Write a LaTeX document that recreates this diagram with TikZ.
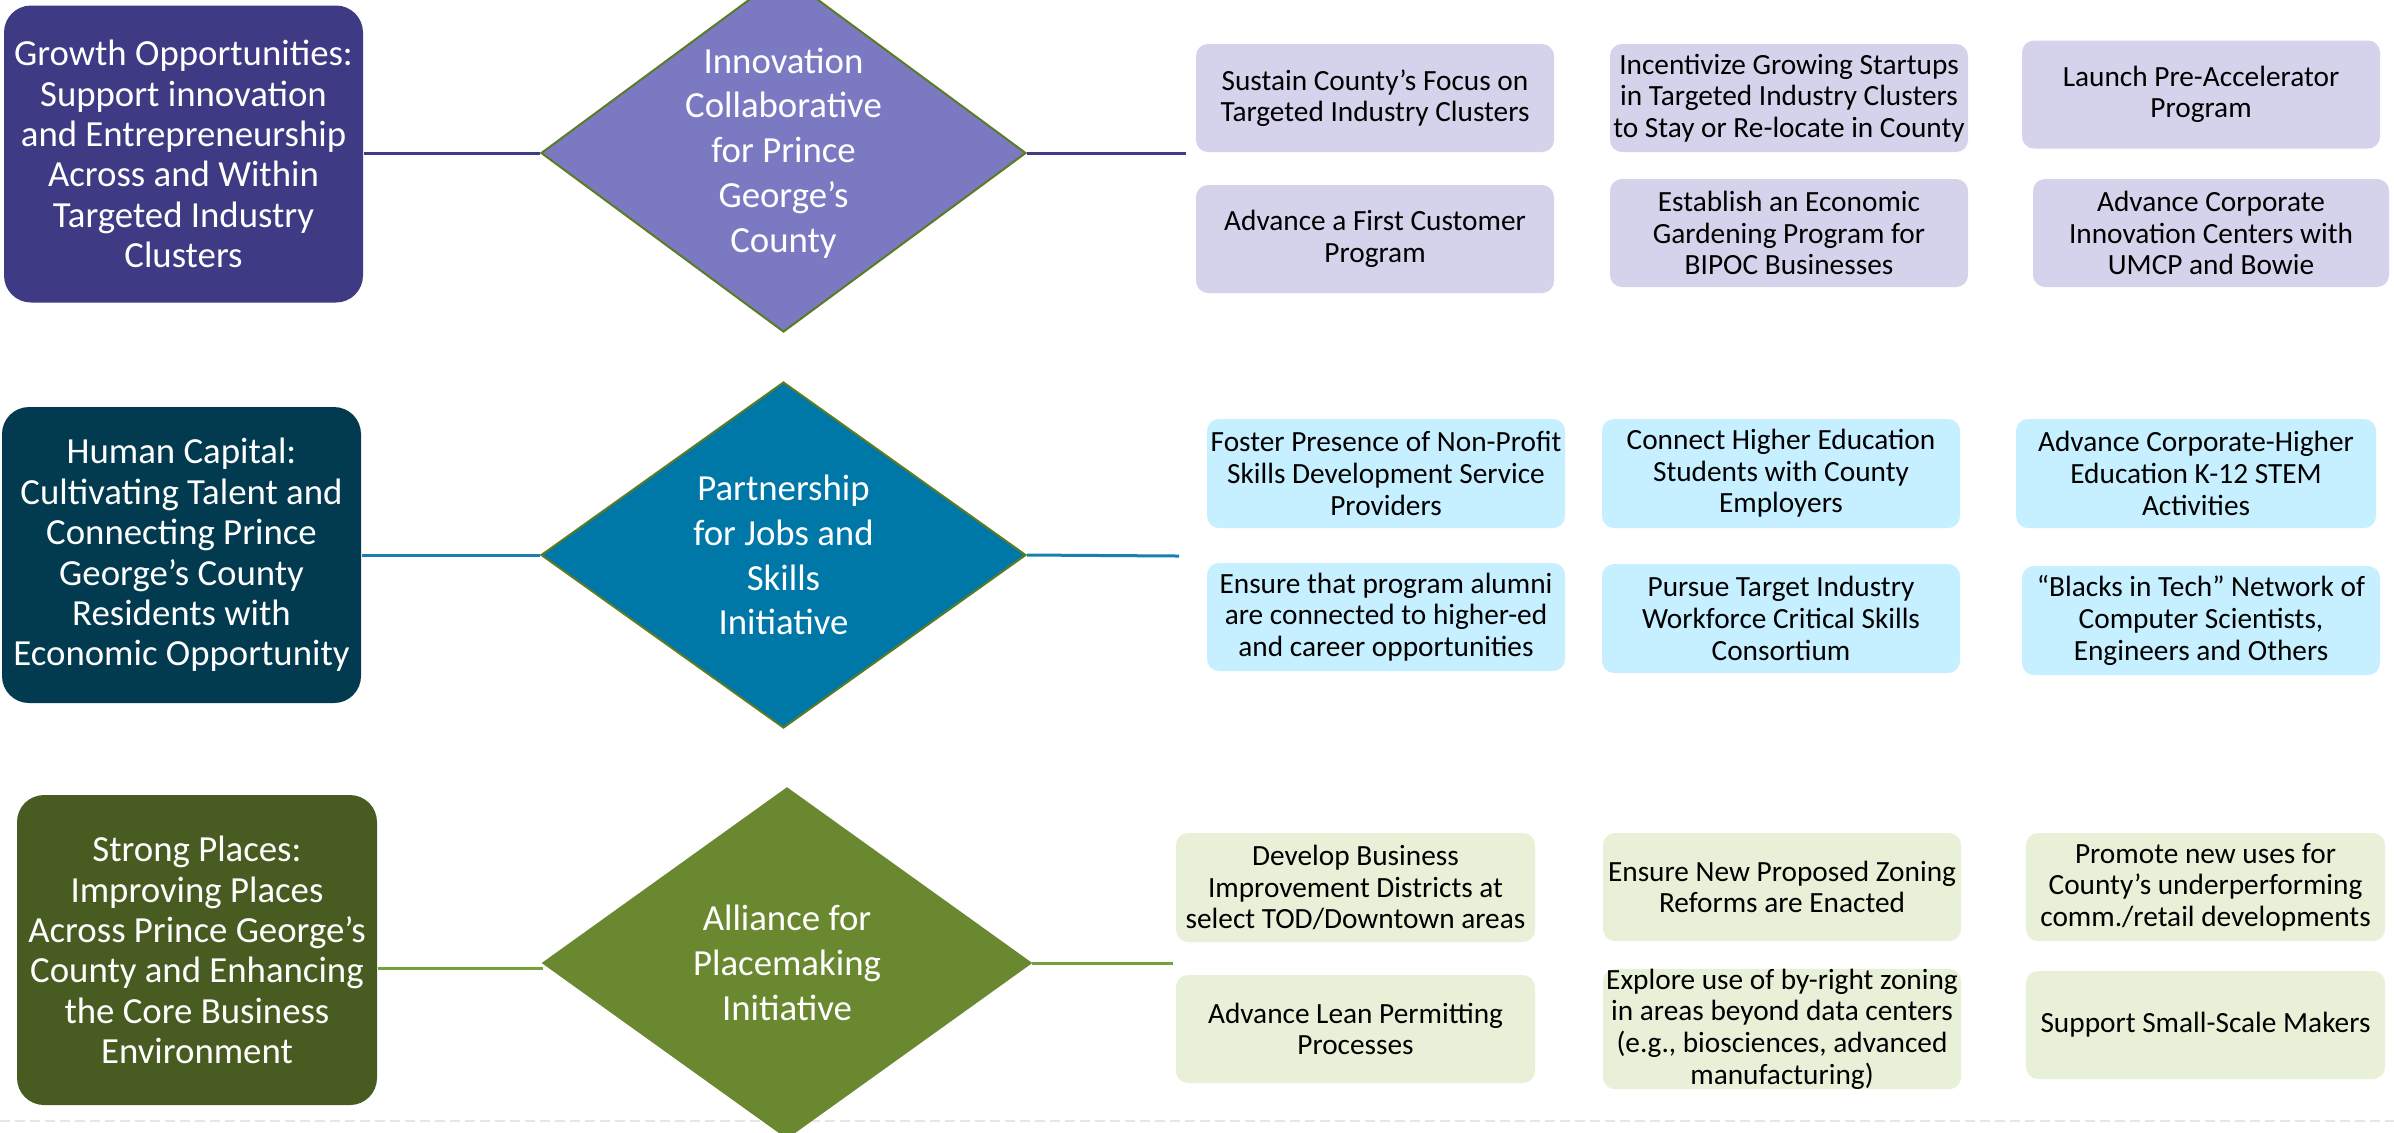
\documentclass[tikz,border=0pt]{standalone}
\usepackage{fontspec}
\setmainfont{Carlito}
\usetikzlibrary{shapes.geometric}
\definecolor{gpurple}{HTML}{3E3A83}
\definecolor{dpurple}{HTML}{7C79C3}
\definecolor{lpurple}{HTML}{D4D3EB}
\definecolor{lnpurple}{HTML}{3F3B86}
\definecolor{gteal}{HTML}{023B4F}
\definecolor{dteal}{HTML}{0078A7}
\definecolor{lteal}{HTML}{C6EFFF}
\definecolor{lnteal}{HTML}{1A7FB0}
\definecolor{ggreen}{HTML}{485C21}
\definecolor{dgreen}{HTML}{6A8830}
\definecolor{lgreen}{HTML}{E8F0D8}
\definecolor{lngreen}{HTML}{76A03A}
\definecolor{dborder}{HTML}{5B7B24}
\definecolor{dashgray}{HTML}{E6E6E6}
\begin{document}
\begin{tikzpicture}[x=0.1mm,y=-0.1mm,
  goal/.style={rounded corners=2.7mm, inner sep=0pt, minimum width=35.9mm,
    minimum height=29.7mm, align=center, text=white,
    font=\fontsize{10.47pt}{11.5pt}\selectfont},
  hub/.style={diamond, draw=dborder, line width=0.2mm, inner sep=0pt,
    minimum width=48.5mm},
  hubtext/.style={inner sep=0pt, align=center, text=white,
    font=\fontsize{10.47pt}{12.77pt}\selectfont},
  act/.style={rounded corners=1.2mm, inner sep=0pt, minimum width=35.8mm,
    minimum height=10.8mm, align=center, text=black,
    font=\fontsize{8.34pt}{9pt}\selectfont},
  link/.style={line width=0.3mm}]
\useasboundingbox (0,0) rectangle (2394,1132);
\clip (0,0) rectangle (2394,1132);
\fill[white] (0,0) rectangle (2394,1132);

% dashed bottom line
\coordinate (dl) at (0,1121);
\coordinate (dr) at (2394,1121);
\draw[dashgray, line width=0.2mm, dash pattern=on 1mm off 0.5mm] (dl) -- (dr);

% ---------- row 1 ----------
\node[goal, fill=gpurple] (g1) at (183.5,154) {Growth Opportunities:\\Support innovation\\and Entrepreneurship\\Across and Within\\Targeted Industry\\Clusters};
\node[hub, fill=dpurple, minimum height=35.8mm] (h1) at (783.5,153) {};
\node[hubtext] (h1t) at (h1.center) {Innovation\\Collaborative\\for Prince\\George’s\\County};
\coordinate (e1) at (1186,153);
\draw[link, lnpurple] (g1.east |- h1.west) -- (h1.west);
\draw[link, lnpurple] (h1.east) -- (e1);

\node[act, fill=lpurple] (a1) at (1375,98) {Sustain County’s Focus on\\Targeted Industry Clusters};
\node[act, fill=lpurple] (a2) at (1789,98) {Incentivize Growing Startups\\in Targeted Industry Clusters\\to Stay or Re-locate in County};
\node[act, fill=lpurple] (a3) at (2201,94.5) {Launch Pre-Accelerator\\Program};
\node[act, fill=lpurple] (a4) at (1375,239) {Advance a First Customer\\Program};
\node[act, fill=lpurple] (a5) at (1789,233) {Establish an Economic\\Gardening Program for\\BIPOC Businesses};
\node[act, fill=lpurple, minimum width=35.6mm] (a6) at (2211,233) {Advance Corporate\\Innovation Centers with\\UMCP and Bowie};

% ---------- row 2 ----------
\node[goal, fill=gteal, minimum height=29.6mm] (g2) at (181.5,555) {Human Capital:\\Cultivating Talent and\\Connecting Prince\\George’s County\\Residents with\\Economic Opportunity};
\node[hub, fill=dteal, minimum height=34.6mm] (h2) at (783.5,555) {};
\node[hubtext] (h2t) at (h2.center) {Partnership\\for Jobs and\\Skills\\Initiative};
\coordinate (e2) at (1179,556);
\draw[link, lnteal] (g2.east |- h2.west) -- (h2.west);
\draw[link, lnteal] (h2.east) -- (e2);

\node[act, fill=lteal, minimum height=10.9mm] (b1) at (1386,473.5) {Foster Presence of Non-Profit\\Skills Development Service\\Providers};
\node[act, fill=lteal, minimum height=10.9mm] (b2) at (1781,473.5) {Connect Higher Education\\Students with County\\Employers};
\node[act, fill=lteal, minimum height=10.9mm, minimum width=36mm] (b3) at (2196,473.5) {Advance Corporate-Higher\\Education K-12 STEM\\Activities};
\node[act, fill=lteal] (b4) at (1386,617) {Ensure that program alumni\\are connected to higher-ed\\and career opportunities};
\node[act, fill=lteal, minimum height=10.9mm] (b5) at (1781,618.5) {Pursue Target Industry\\Workforce Critical Skills\\Consortium};
\node[act, fill=lteal, minimum height=10.9mm] (b6) at (2201,620.5) {“Blacks in Tech” Network of\\Computer Scientists,\\Engineers and Others};

% ---------- row 3 ----------
\node[goal, fill=ggreen, minimum width=36mm, minimum height=31mm] (g3) at (197,950) {Strong Places:\\Improving Places\\Across Prince George’s\\County and Enhancing\\the Core Business\\Environment};
\coordinate (j3) at (543,968);
\draw[link, lngreen] (g3.east |- j3) -- (j3);
\node[hub, fill=dgreen, draw=dgreen, minimum width=48.8mm, minimum height=35mm] (h3) at (787,963) {};
\node[hubtext] (h3t) at (h3.center) {Alliance for\\Placemaking\\Initiative};
\coordinate (e3) at (1173,963);
\draw[link, lngreen] (h3.east) -- (e3);

\node[act, fill=lgreen, minimum width=35.9mm, minimum height=10.9mm] (c1) at (1355.5,887.5) {Develop Business\\Improvement Districts at\\select TOD/Downtown areas};
\node[act, fill=lgreen] (c2) at (1782,887) {Ensure New Proposed Zoning\\Reforms are Enacted};
\node[act, fill=lgreen, minimum width=35.9mm] (c3) at (2205.5,887) {Promote new uses for\\County’s underperforming\\comm./retail developments};
\node[act, fill=lgreen, minimum width=35.9mm] (c4) at (1355.5,1029) {Advance Lean Permitting\\Processes};
\node[act, fill=lgreen] (c5) at (1782,1029) {Explore use of by-right zoning\\in areas beyond data centers\\(e.g., biosciences, advanced\\manufacturing)};
\node[act, fill=lgreen, minimum width=35.9mm] (c6) at (2205.5,1025) {Support Small-Scale Makers};
\end{tikzpicture}
\end{document}
